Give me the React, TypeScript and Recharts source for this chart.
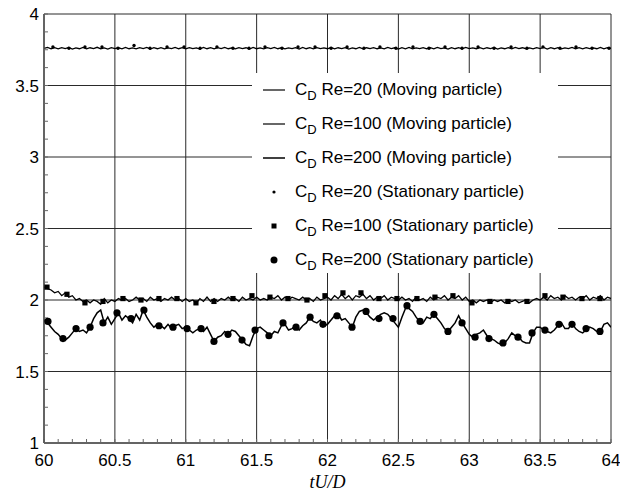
import React from 'react';
import { ComposedChart, Line, Scatter, XAxis, YAxis, CartesianGrid } from 'recharts';

// Sampled time series (uniform sampling from t=60 to t=64)
const T_START = 60;
const T_STEP = 0.025;

const cdRe20Moving = [
  3.760,3.766,3.757,3.764,3.756,3.765,3.758,3.766,3.755,3.763,
  3.757,3.766,3.756,3.764,3.758,3.767,3.757,3.763,3.755,3.765,
  3.758,3.764,3.756,3.766,3.757,3.763,3.756,3.765,3.758,3.766,
  3.755,3.764,3.757,3.765,3.756,3.763,3.758,3.766,3.757,3.764,
  3.756,3.765,3.758,3.763,3.755,3.766,3.757,3.764,3.756,3.765,
  3.758,3.766,3.757,3.763,3.756,3.765,3.758,3.764,3.755,3.766,
  3.757,3.763,3.756,3.765,3.758,3.766,3.757,3.764,3.756,3.763,
  3.758,3.765,3.755,3.766,3.757,3.764,3.756,3.765,3.758,3.763,
  3.757,3.766,3.756,3.764,3.758,3.765,3.755,3.763,3.757,3.766,
  3.756,3.764,3.758,3.765,3.757,3.763,3.756,3.766,3.758,3.764,
  3.755,3.765,3.757,3.766,3.756,3.763,3.758,3.765,3.757,3.764,
  3.756,3.766,3.758,3.763,3.755,3.765,3.757,3.764,3.756,3.766,
  3.758,3.763,3.757,3.765,3.756,3.764,3.758,3.766,3.755,3.763,
  3.757,3.765,3.756,3.766,3.758,3.764,3.757,3.763,3.756,3.765,
  3.758,3.766,3.755,3.764,3.757,3.765,3.756,3.763,3.758,3.766,
  3.757,3.764,3.756,3.765,3.758,3.763,3.757,3.766,3.756,3.764,
  3.760,
];

const cdRe100Moving = [
  2.09,2.08,2.07,2.05,2.06,2.03,2.05,2.02,2.03,2.00,
  2.01,1.99,2.00,1.98,2.00,1.99,1.97,2.01,1.98,2.00,
  1.99,2.01,2.00,2.01,1.99,2.00,2.02,2.00,2.01,1.99,
  2.02,2.00,2.01,1.99,2.01,2.00,2.02,2.00,2.01,1.99,
  2.01,1.99,2.00,1.98,2.01,1.99,2.02,1.99,2.01,1.99,
  2.01,2.00,2.02,2.00,2.01,1.99,2.02,2.00,2.01,2.00,
  2.02,2.00,2.01,2.00,2.02,2.01,2.03,2.00,2.02,2.00,
  2.02,2.01,2.00,2.02,2.00,2.01,1.99,2.02,2.00,2.01,
  2.02,2.00,2.03,2.01,2.04,2.01,2.03,2.00,2.03,2.02,
  2.04,2.01,2.03,2.00,2.02,2.01,2.03,2.00,2.02,2.01,
  2.00,2.02,2.00,2.01,1.99,2.02,2.00,2.01,1.99,2.02,
  2.00,2.02,2.01,2.03,2.00,2.02,2.01,2.03,2.00,2.02,
  1.99,2.00,1.98,2.00,1.99,2.00,1.98,2.00,1.99,2.00,
  1.98,2.00,1.99,2.00,1.98,1.99,2.00,1.98,2.00,2.01,
  2.00,2.02,2.00,2.03,2.01,2.02,2.00,2.03,2.01,2.02,
  2.00,2.02,2.01,2.03,2.00,2.02,2.01,2.03,2.00,2.02,
  2.01,
];

const cdRe200Moving = [
  1.86,1.84,1.81,1.78,1.76,1.73,1.72,1.74,1.77,1.80,
  1.78,1.79,1.77,1.81,1.87,1.91,1.93,1.84,1.88,1.83,
  1.87,1.91,1.86,1.89,1.87,1.84,1.90,1.86,1.93,1.88,
  1.84,1.81,1.83,1.82,1.80,1.83,1.80,1.82,1.83,1.80,
  1.81,1.79,1.77,1.79,1.80,1.78,1.81,1.76,1.71,1.74,
  1.75,1.78,1.76,1.79,1.78,1.75,1.72,1.69,1.68,1.75,
  1.80,1.81,1.79,1.77,1.75,1.78,1.77,1.82,1.83,1.79,
  1.80,1.82,1.79,1.82,1.84,1.88,1.85,1.84,1.86,1.82,
  1.83,1.86,1.89,1.90,1.86,1.87,1.84,1.81,1.88,1.92,
  1.93,1.91,1.88,1.86,1.88,1.90,1.91,1.90,1.87,1.84,
  1.81,1.88,1.94,1.94,1.92,1.88,1.85,1.84,1.88,1.87,
  1.90,1.87,1.84,1.80,1.78,1.81,1.84,1.89,1.84,1.80,
  1.76,1.74,1.76,1.77,1.79,1.75,1.73,1.72,1.70,1.69,
  1.70,1.73,1.77,1.75,1.74,1.71,1.70,1.70,1.77,1.81,
  1.81,1.79,1.78,1.77,1.79,1.82,1.84,1.80,1.80,1.84,
  1.80,1.78,1.77,1.79,1.81,1.80,1.78,1.78,1.83,1.84,
  1.81,
];

// Stationary particle samples (time, C_D)
const re20StatT = [
  60.063,60.176,60.289,60.409,60.522,60.635,60.748,60.868,60.988,61.101,
  61.220,61.333,61.446,61.559,61.679,61.792,61.912,62.025,62.138,62.257,
  62.370,62.483,62.603,62.716,62.829,62.949,63.062,63.175,63.295,63.407,
  63.520,63.640,63.753,63.866,63.986,
];
const re20StatV = [
  3.77,3.76,3.77,3.77,3.76,3.78,3.76,3.77,3.77,3.76,
  3.77,3.76,3.76,3.77,3.76,3.77,3.77,3.76,3.77,3.76,
  3.77,3.76,3.77,3.76,3.77,3.76,3.77,3.76,3.77,3.76,
  3.77,3.76,3.77,3.76,3.76,
];

const re100StatT = [
  60.021,60.162,60.289,60.416,60.557,60.684,60.811,60.938,61.072,61.199,
  61.333,61.467,61.594,61.721,61.855,61.982,62.109,62.236,62.363,62.490,
  62.631,62.758,62.885,63.019,63.146,63.273,63.407,63.534,63.661,63.795,
  63.922,
];
const re100StatV = [
  2.09,2.04,1.98,1.99,2.01,2.00,2.01,2.01,1.98,1.99,
  2.01,2.03,2.02,2.01,2.00,2.03,2.05,2.05,2.01,2.01,
  2.01,2.02,2.03,1.98,1.99,1.99,1.99,2.03,2.02,2.01,
  2.01,
];

const re200StatT = [
  60.028,60.134,60.226,60.325,60.416,60.515,60.614,60.705,60.811,60.910,
  61.009,61.108,61.199,61.298,61.397,61.489,61.587,61.686,61.778,61.877,
  61.968,62.067,62.173,62.272,62.363,62.462,62.561,62.653,62.751,62.850,
  62.949,63.041,63.139,63.238,63.344,63.443,63.534,63.633,63.725,63.824,
  63.922,
];
const re200StatV = [
  1.85,1.73,1.80,1.81,1.84,1.91,1.87,1.93,1.82,1.81,
  1.80,1.80,1.71,1.76,1.72,1.79,1.75,1.84,1.81,1.88,
  1.83,1.89,1.81,1.92,1.87,1.87,1.96,1.85,1.90,1.78,
  1.84,1.74,1.73,1.70,1.74,1.77,1.79,1.83,1.83,1.80,
  1.78,
];

const legendLabels = [
  'Re=20 (Moving particle)',
  'Re=100 (Moving particle)',
  'Re=200 (Moving particle)',
  'Re=20 (Stationary particle)',
  'Re=100 (Stationary particle)',
  'Re=200 (Stationary particle)',
];

const xMajor = [60, 60.5, 61, 61.5, 62, 62.5, 63, 63.5, 64];
const yMajor = [1, 1.5, 2, 2.5, 3, 3.5, 4];

const toSeries = (vals: number[]) =>
  vals.map((v, i) => ({ t: Number((T_START + i * T_STEP).toFixed(3)), v }));
const toPoints = (ts: number[], vs: number[]) => ts.map((t, i) => ({ t, v: vs[i] }));

const re20Line = toSeries(cdRe20Moving);
const re100Line = toSeries(cdRe100Moving);
const re200Line = toSeries(cdRe200Moving);
const re20Pts = toPoints(re20StatT, re20StatV);
const re100Pts = toPoints(re100StatT, re100StatV);
const re200Pts = toPoints(re200StatT, re200StatV);

const xTicks: number[] = [];
for (let i = 0; i <= 40; i++) xTicks.push(Number((60 + i * 0.1).toFixed(1)));
const yTicks: number[] = [];
for (let i = 0; i <= 24; i++) yTicks.push(1 + i * 0.125);

const isMajor = (v: number) => Math.abs(v * 2 - Math.round(v * 2)) < 1e-6;
const fmt = (v: number) => (isMajor(v) ? String(Number(v.toFixed(1))) : '');

const FONT = '"Liberation Sans", Arial, Helvetica, sans-serif';

const DotShape = (p: any) => <circle cx={p.cx} cy={p.cy} r={1.7} fill="#000" />;
const SquareShape = (p: any) => <rect x={p.cx - 2.6} y={p.cy - 2.6} width={5.2} height={5.2} fill="#000" />;
const CircleShape = (p: any) => <circle cx={p.cx} cy={p.cy} r={3.6} fill="#000" />;

const XLabel = (props: any) => {
  const vb = props.viewBox || {};
  return (
    <text
      x={vb.x + vb.width / 2}
      y={vb.y + vb.height - 6}
      textAnchor="middle"
      fontFamily='"Liberation Serif", "Times New Roman", serif'
      fontStyle="italic"
      fontSize={18}
      fill="#000"
    >
      tU/D
    </text>
  );
};

const LegendSymbol = ({ idx }: { idx: number }) => {
  if (idx < 3) {
    return (
      <svg width={24} height={10}>
        <line x1={0} y1={5} x2={22} y2={5} stroke="#000" strokeWidth={idx === 2 ? 1.5 : 1.2} />
      </svg>
    );
  }
  return (
    <svg width={24} height={10}>
      {idx === 3 && <circle cx={11} cy={5} r={1.6} fill="#000" />}
      {idx === 4 && <rect x={8.5} y={2.5} width={5} height={5} fill="#000" />}
      {idx === 5 && <circle cx={11} cy={5} r={3.5} fill="#000" />}
    </svg>
  );
};

export default function App() {
  return (
    <div style={{ position: 'absolute', width: 620, height: 494, left: 0, top: 0, overflow: 'hidden' }}>
      <ComposedChart
        width={620}
        height={494}
        margin={{ top: 14, right: 9, left: 0, bottom: 0 }}
        style={{ overflow: 'visible' }}
      >
        <CartesianGrid
          stroke="#2a2a2a"
          strokeWidth={1}
          horizontalValues={yMajor}
          verticalValues={xMajor}
        />
        <XAxis
          dataKey="t"
          type="number"
          domain={[60, 64]}
          allowDataOverflow
          ticks={xTicks}
          interval={0}
          tickFormatter={fmt}
          tickSize={-4}
          tickMargin={15}
          height={51}
          axisLine={{ stroke: '#555', strokeWidth: 1.5 }}
          tickLine={{ stroke: '#666' }}
          tick={{ fill: '#000', fontSize: 17, fontFamily: FONT }}
          label={<XLabel />}
        />
        <YAxis
          type="number"
          domain={[1, 4]}
          allowDataOverflow
          ticks={yTicks}
          interval={0}
          tickFormatter={fmt}
          tickSize={-4}
          tickMargin={9}
          width={44}
          axisLine={{ stroke: '#555', strokeWidth: 1.5 }}
          tickLine={{ stroke: '#666' }}
          tick={{ fill: '#000', fontSize: 17, fontFamily: FONT }}
        />
        <Line data={re20Line} dataKey="v" type="linear" stroke="#000" strokeWidth={1.3} dot={false} activeDot={false} isAnimationActive={false} />
        <Line data={re100Line} dataKey="v" type="linear" stroke="#000" strokeWidth={1.3} dot={false} activeDot={false} isAnimationActive={false} />
        <Line data={re200Line} dataKey="v" type="linear" stroke="#000" strokeWidth={1.5} dot={false} activeDot={false} isAnimationActive={false} />
        <Scatter data={re20Pts} dataKey="v" shape={DotShape} isAnimationActive={false} />
        <Scatter data={re100Pts} dataKey="v" shape={SquareShape} isAnimationActive={false} />
        <Scatter data={re200Pts} dataKey="v" shape={CircleShape} isAnimationActive={false} />
      </ComposedChart>
      <div
        style={{
          position: 'absolute',
          left: 252,
          top: 73,
          width: 306,
          height: 200,
          background: '#fff',
          fontFamily: FONT,
          fontSize: 17,
          color: '#000',
        }}
      >
        {legendLabels.map((lbl, i) => (
          <div
            key={lbl}
            style={{
              position: 'absolute',
              left: 11,
              top: 4 + i * 34,
              height: 26,
              display: 'flex',
              alignItems: 'center',
              whiteSpace: 'nowrap',
            }}
          >
            <LegendSymbol idx={i} />
            <span style={{ marginLeft: 8 }}>
              C<span style={{ fontSize: 13, position: 'relative', top: 5 }}>D</span> {lbl}
            </span>
          </div>
        ))}
      </div>
    </div>
  );
}
